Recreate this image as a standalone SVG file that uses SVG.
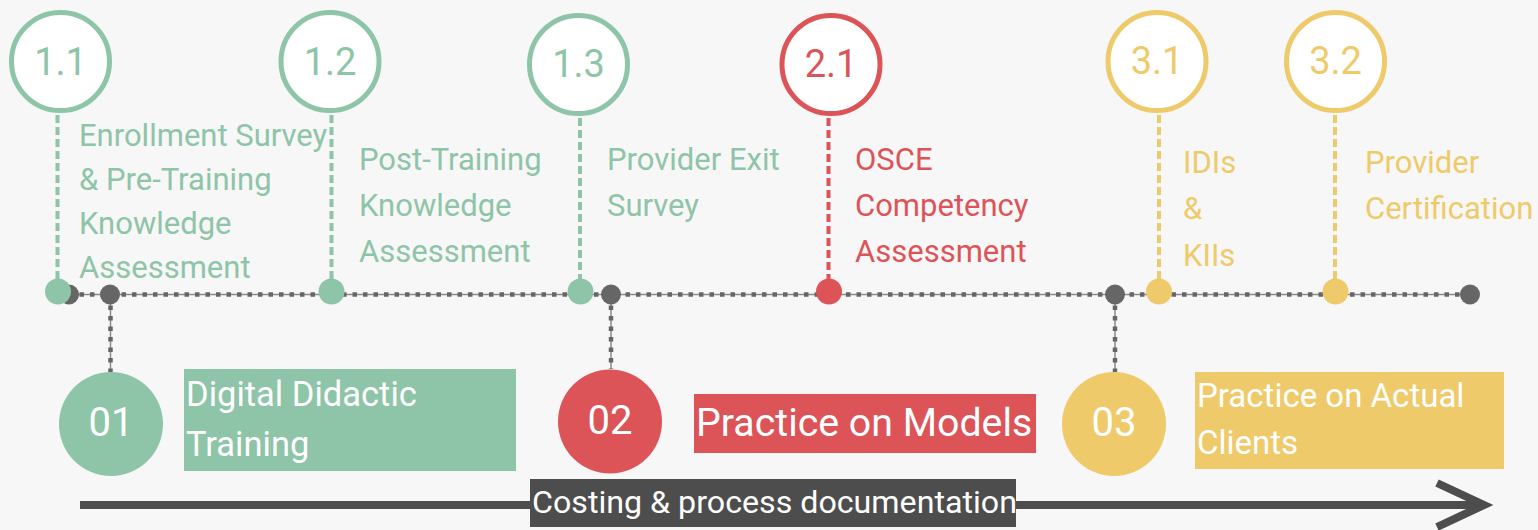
<svg xmlns="http://www.w3.org/2000/svg" width="1538" height="530" viewBox="0 0 1538 530">
<style>
text{font-family:Roboto,"Liberation Sans",sans-serif}
.ring{fill:#fff;stroke-width:5}
.num{font-size:38px;text-anchor:middle}
.lbl{font-size:31px}
.g{fill:#8ec4a8}.r{fill:#dc5457}.y{fill:#efca6a}
.gs{stroke:#8ec4a8}.rs{stroke:#dc5457}.ys{stroke:#efca6a}
.vd{stroke-width:4;stroke-dasharray:8 4;fill:none}
.base{stroke:#8a8a8a;stroke-width:1.5;fill:none}
.sq{stroke:#666;stroke-width:4.5;stroke-dasharray:4.5 6;fill:none}
.dk{fill:#666}
.big{fill:#fff;font-size:40px;text-anchor:middle}
.wt{fill:#fff}
</style>
<rect width="1538" height="530" fill="#f7f7f7"/>
<g id="connectors">
<line class="base" x1="69" y1="294.5" x2="1470" y2="294.5"/>
<line class="sq" x1="69" y1="294.5" x2="1470" y2="294.5"/>
<line class="base" x1="110.5" y1="295" x2="110.5" y2="372"/>
<line class="sq" x1="110.5" y1="295" x2="110.5" y2="372"/>
<line class="base" x1="611" y1="295" x2="611" y2="369"/>
<line class="sq" x1="611" y1="295" x2="611" y2="369"/>
<line class="base" x1="1115" y1="295" x2="1115" y2="372"/>
<line class="sq" x1="1115" y1="295" x2="1115" y2="372"/>
<line class="vd gs" x1="57.5" y1="115" x2="57.5" y2="280"/>
<line class="vd gs" x1="331.5" y1="115" x2="331.5" y2="280"/>
<line class="vd gs" x1="580" y1="118" x2="580" y2="280"/>
<line class="vd rs" x1="828.5" y1="118" x2="828.5" y2="280"/>
<line class="vd ys" x1="1159" y1="115" x2="1159" y2="280"/>
<line class="vd ys" x1="1335" y1="115" x2="1335" y2="280"/>
<circle class="dk" cx="69" cy="294.5" r="10"/>
<circle class="dk" cx="110" cy="294.5" r="10"/>
<circle class="dk" cx="611" cy="294.5" r="10"/>
<circle class="dk" cx="1115" cy="294.5" r="10"/>
<circle class="dk" cx="1470" cy="294.5" r="10"/>
<g fill="none" stroke="#4d4d4d" stroke-width="8">
<line x1="80" y1="505" x2="1484" y2="505"/>
<polyline points="1437,483 1484,505 1437,527"/>
</g>
</g>
<g id="n11">
<circle class="ring gs" cx="60.5" cy="61.5" r="49"/>
<text class="num g" x="60.5" y="74.5">1.1</text>
<circle class="g" cx="58" cy="291.5" r="13"/>
<text class="lbl g" font-size="29.3"><tspan x="79" y="146">Enrollment Survey</tspan><tspan x="79" y="190">&amp; Pre-Training</tspan><tspan x="79" y="234">Knowledge</tspan><tspan x="79" y="278">Assessment</tspan></text>
</g>
<g id="n12">
<circle class="ring gs" cx="330" cy="61.5" r="49"/>
<text class="num g" x="330" y="74.5">1.2</text>
<circle class="g" cx="331.5" cy="291.5" r="13"/>
<text class="lbl g" font-size="32"><tspan x="359" y="170">Post-Training</tspan><tspan x="359" y="216">Knowledge</tspan><tspan x="359" y="262">Assessment</tspan></text>
</g>
<g id="n13">
<circle class="ring gs" cx="578.5" cy="64.5" r="49"/>
<text class="num g" x="578.5" y="77">1.3</text>
<circle class="g" cx="580.5" cy="291.5" r="13"/>
<text class="lbl g" font-size="31.5"><tspan x="607" y="170">Provider Exit</tspan><tspan x="607" y="216">Survey</tspan></text>
</g>
<g id="n21">
<circle class="ring rs" cx="831" cy="64.5" r="49"/>
<text class="num r" x="831" y="77">2.1</text>
<circle class="r" cx="829" cy="291.5" r="13"/>
<text class="lbl r"><tspan x="855" y="170">OSCE</tspan><tspan x="855" y="216">Competency</tspan><tspan x="855" y="262">Assessment</tspan></text>
</g>
<g id="n31">
<circle class="ring ys" cx="1157" cy="61.5" r="49"/>
<text class="num y" x="1157" y="74">3.1</text>
<circle class="y" cx="1159" cy="291.5" r="13"/>
<text class="lbl y"><tspan x="1183" y="173">IDIs</tspan><tspan x="1183" y="219">&amp;</tspan><tspan x="1183" y="266">KIIs</tspan></text>
</g>
<g id="n32">
<circle class="ring ys" cx="1335.5" cy="61.5" r="49"/>
<text class="num y" x="1335.5" y="74">3.2</text>
<circle class="y" cx="1335.5" cy="291.5" r="13"/>
<text class="lbl y"><tspan x="1365" y="173">Provider</tspan><tspan x="1365" y="219">Certification</tspan></text>
</g>
<g id="p01">
<circle class="g" cx="111" cy="424" r="52"/>
<text class="big" x="111" y="436">01</text>
<rect class="g" x="184" y="369" width="332" height="102"/>
<text class="wt" font-size="34.5"><tspan x="186" y="406">Digital Didactic</tspan><tspan x="186" y="456">Training</tspan></text>
</g>
<g id="p02">
<circle class="r" cx="610" cy="421.5" r="52"/>
<text class="big" x="610" y="434">02</text>
<rect class="r" x="694" y="394" width="342" height="59"/>
<text class="wt" font-size="39.3" x="696" y="436">Practice on Models</text>
</g>
<g id="p03">
<circle class="y" cx="1114" cy="424" r="52"/>
<text class="big" x="1114" y="436">03</text>
<rect class="y" x="1195" y="372" width="309" height="97"/>
<text class="wt" font-size="33"><tspan x="1197" y="406.5">Practice on Actual</tspan><tspan x="1197" y="454">Clients</tspan></text>
</g>
<g id="costing">
<rect x="530" y="479" width="486" height="48" fill="#4d4d4d"/>
<text class="wt" font-size="32.2" x="532" y="513">Costing &amp; process documentation</text>
</g>
</svg>
